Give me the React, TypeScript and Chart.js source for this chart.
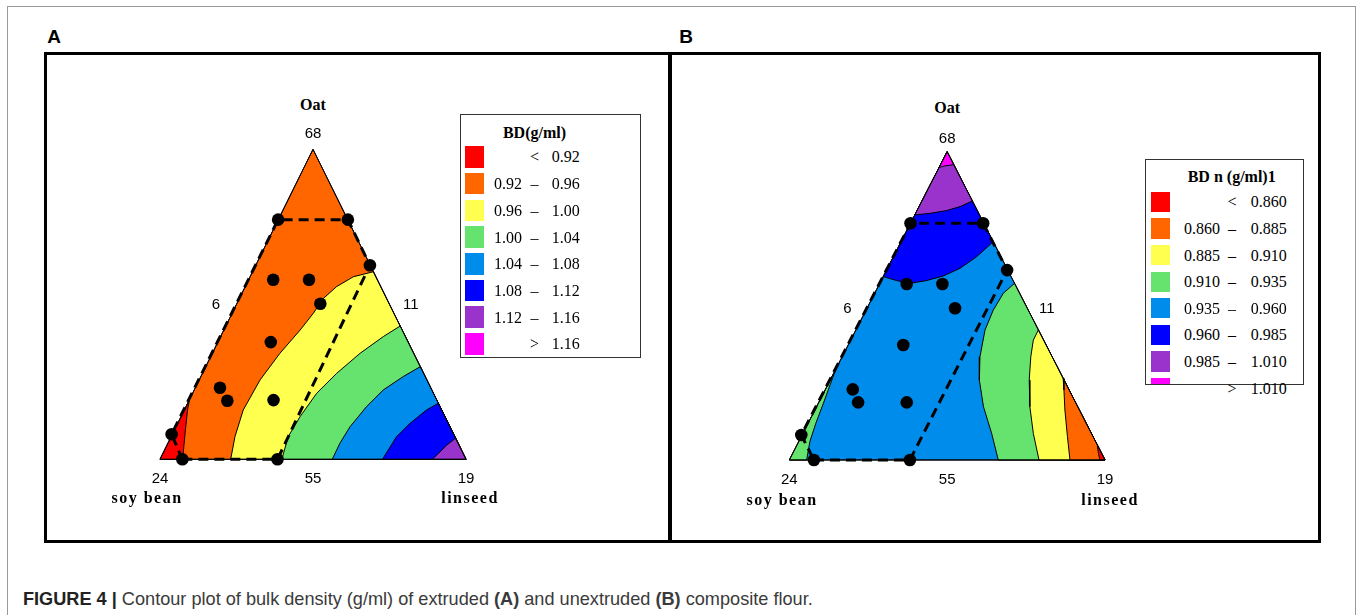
import React, { useEffect, useRef } from 'react';
import { Chart, registerables } from 'chart.js';
Chart.register(...registerables);

// ---------- palette of contour classes ----------
const C_RED = '#FF0000';
const C_ORANGE = '#FF6600';
const C_YELLOW = '#FFFF4F';
const C_GREEN = '#66E36E';
const C_LBLUE = '#008CEB';
const C_BLUE = '#0000FF';
const C_PURPLE = '#9933CC';
const C_MAGENTA = '#FF00FF';
const legendColors = [C_RED, C_ORANGE, C_YELLOW, C_GREEN, C_LBLUE, C_BLUE, C_PURPLE, C_MAGENTA];

// ---------- vertex / edge labels ----------
const componentNames = ['Oat', 'soy bean', 'linseed'];
const vertexTicks = ['68', '6', '11', '24', '55', '19']; // top, left edge, right edge, bottom-left, base, bottom-right

// ---------- legend levels ----------
const legendTitleA = 'BD(g/ml)';
const levelsA = ['0.92', '0.96', '1.00', '1.04', '1.08', '1.12', '1.16'];
const legendTitleB = 'BD n (g/ml)1';
const levelsB = ['0.860', '0.885', '0.910', '0.935', '0.960', '0.985', '1.010'];

// Plot coordinates in the triangle: x along the base (0 = soy bean corner, 1 = linseed corner), y = Oat height (1 = apex)

// ---------- Panel A (extruded) ----------
const designPointsA: [number, number][] = [
  [0.386, 0.773], [0.614, 0.773], [0.686, 0.626], [0.370, 0.579], [0.487, 0.579], [0.524, 0.502],
  [0.362, 0.378], [0.196, 0.231], [0.220, 0.189], [0.371, 0.191], [0.038, 0.081], [0.073, 0.0], [0.384, 0.0],
];
const designRegionA: [number, number][] = [
  [0.073, 0.0], [0.384, 0.0], [0.686, 0.626], [0.614, 0.773], [0.386, 0.773], [0.038, 0.081], [0.073, 0.0],
];
const redEdgeA: [number, number][] = [[0.096, 0.191], [0.090, 0.159], [0.082, 0.084], [0.074, 0.0]];
const orangeYellowA: [number, number][] = [
  [0.697, 0.605], [0.632, 0.589], [0.577, 0.557], [0.534, 0.519], [0.501, 0.471], [0.458, 0.417],
  [0.392, 0.342], [0.327, 0.256], [0.272, 0.159], [0.245, 0.073], [0.231, 0.0],
];
const yellowGreenA: [number, number][] = [
  [0.785, 0.430], [0.730, 0.396], [0.654, 0.342], [0.577, 0.277], [0.512, 0.213], [0.458, 0.138],
  [0.419, 0.073], [0.398, 0.0],
];
const greenLblueA: [number, number][] = [
  [0.851, 0.299], [0.795, 0.267], [0.730, 0.224], [0.675, 0.170], [0.621, 0.105], [0.588, 0.052], [0.563, 0.0],
];
const lblueBlueA: [number, number][] = [
  [0.910, 0.181], [0.871, 0.159], [0.817, 0.116], [0.773, 0.073], [0.746, 0.030], [0.727, 0.0],
];
const bluePurpleA: [number, number][] = [[0.966, 0.068], [0.937, 0.046], [0.910, 0.019], [0.890, 0.0]];

// ---------- Panel B (unextruded) ----------
const designPointsB: [number, number][] = [
  [0.384, 0.768], [0.614, 0.768], [0.690, 0.616], [0.372, 0.571], [0.485, 0.571], [0.525, 0.492],
  [0.361, 0.373], [0.201, 0.229], [0.218, 0.187], [0.372, 0.187], [0.038, 0.081], [0.078, 0.0], [0.382, 0.0],
];
const designRegionB: [number, number][] = [
  [0.078, 0.0], [0.382, 0.0], [0.690, 0.616], [0.614, 0.768], [0.384, 0.768], [0.038, 0.081], [0.078, 0.0],
];
const leftGreenB: [number, number][] = [
  [0.1485, 0.297], [0.131, 0.249], [0.108, 0.184], [0.084, 0.119], [0.065, 0.059], [0.055, 0.0],
];
const lblueGreenB: [number, number][] = [
  [0.7135, 0.573], [0.678, 0.541], [0.646, 0.486], [0.620, 0.422], [0.604, 0.335], [0.602, 0.259],
  [0.615, 0.173], [0.641, 0.086], [0.662, 0.0],
];
const greenYellowB: [number, number][] = [
  [0.789, 0.422], [0.773, 0.389], [0.765, 0.335], [0.760, 0.259], [0.762, 0.173], [0.773, 0.086], [0.791, 0.0],
];
const yellowOrangeB: [number, number][] = [
  [0.8675, 0.265], [0.870, 0.227], [0.873, 0.162], [0.881, 0.076], [0.889, 0.0],
];
const orangeRedB: [number, number][] = [[0.9757, 0.0486], [0.979, 0.022], [0.984, 0.0]];
const lblueBlueB: [number, number][] = [
  [0.2975, 0.595], [0.340, 0.582], [0.382, 0.573], [0.435, 0.582], [0.488, 0.597], [0.541, 0.622],
  [0.593, 0.659], [0.646, 0.708],
];
const bluePurpleB: [number, number][] = [[0.3975, 0.795], [0.446, 0.800], [0.498, 0.809], [0.541, 0.822], [0.580, 0.840]];
const purpleMagentaB: [number, number][] = [[0.4745, 0.949], [0.493, 0.954], [0.521, 0.958]];

// ---------- triangle corners ----------
const T_LEFT: [number, number] = [0, 0];
const T_RIGHT: [number, number] = [1, 0];
const T_APEX: [number, number] = [0.5, 1];

const toXY = (arr: [number, number][]) => arr.map(([x, y]) => ({ x, y }));
const closeWith = (curve: [number, number][], ...corners: [number, number][]) => toXY([...curve, ...corners, curve[0]]);
const triangle = () => toXY([T_LEFT, T_RIGHT, T_APEX, T_LEFT]);

type Layer = { data: { x: number; y: number }[]; color: string };

const layersA: Layer[] = [
  { data: triangle(), color: C_ORANGE },
  { data: closeWith(orangeYellowA, T_RIGHT), color: C_YELLOW },
  { data: closeWith(yellowGreenA, T_RIGHT), color: C_GREEN },
  { data: closeWith(greenLblueA, T_RIGHT), color: C_LBLUE },
  { data: closeWith(lblueBlueA, T_RIGHT), color: C_BLUE },
  { data: closeWith(bluePurpleA, T_RIGHT), color: C_PURPLE },
  { data: toXY([T_LEFT, ...redEdgeA, T_LEFT]), color: C_RED },
];

const layersB: Layer[] = [
  { data: triangle(), color: C_LBLUE },
  { data: closeWith(lblueGreenB, T_RIGHT), color: C_GREEN },
  { data: closeWith(greenYellowB, T_RIGHT), color: C_YELLOW },
  { data: closeWith(yellowOrangeB, T_RIGHT), color: C_ORANGE },
  { data: closeWith(orangeRedB, T_RIGHT), color: C_RED },
  { data: toXY([T_LEFT, ...leftGreenB, T_LEFT]), color: C_GREEN },
  { data: closeWith(lblueBlueB, T_APEX), color: C_BLUE },
  { data: closeWith(bluePurpleB, T_APEX), color: C_PURPLE },
  { data: closeWith(purpleMagentaB, T_APEX), color: C_MAGENTA },
];

// plugin: fills a dataset's polygon (points placed by the chart scales) before its outline is drawn
const polygonFill = {
  id: 'polygonFill',
  beforeDatasetDraw(chart: any, args: any) {
    const ds = chart.data.datasets[args.index];
    if (!ds.polyFill) return;
    const pts = args.meta.data;
    if (!pts.length) return;
    const ctx = chart.ctx;
    ctx.save();
    ctx.beginPath();
    pts.forEach((p: any, i: number) => (i ? ctx.lineTo(p.x, p.y) : ctx.moveTo(p.x, p.y)));
    ctx.closePath();
    ctx.fillStyle = ds.polyFill;
    ctx.fill();
    ctx.restore();
  },
};

type Rect = { x: number; y: number; w: number; h: number };
type Tri = { x0: number; x1: number; yTop: number; yBase: number };

function TernaryChart({ layers, region, points, rect, tri }: { layers: Layer[]; region: [number, number][]; points: [number, number][]; rect: Rect; tri: Tri }) {
  const ref = useRef<HTMLCanvasElement>(null);
  useEffect(() => {
    const list: any[] = [];
    layers.forEach((l) =>
      list.push({
        data: l.data, showLine: true, borderColor: '#000', borderWidth: 1, pointRadius: 0,
        pointHoverRadius: 0, fill: false, tension: 0, polyFill: l.color,
      })
    );
    list.push({ data: triangle(), showLine: true, borderColor: '#000', borderWidth: 1, pointRadius: 0, fill: false });
    list.push({
      data: toXY(region), showLine: true, borderColor: '#000', borderWidth: 3, borderDash: [10, 6],
      pointRadius: 0, fill: false, tension: 0,
    });
    list.push({
      data: toXY(points), showLine: false, pointRadius: 6.3, pointBackgroundColor: '#000',
      pointBorderColor: '#000', pointBorderWidth: 0, backgroundColor: '#000',
    });
    const n = list.length;
    const datasets = list.map((d, i) => ({ ...d, order: n - i }));
    const bw = tri.x1 - tri.x0;
    const bh = tri.yBase - tri.yTop;
    const chart = new Chart(ref.current as HTMLCanvasElement, {
      type: 'scatter',
      data: { datasets },
      options: {
        animation: false,
        responsive: false,
        events: [],
        layout: { padding: 0, autoPadding: false },
        plugins: { legend: { display: false }, tooltip: { enabled: false }, title: { display: false } },
        scales: {
          x: { type: 'linear', display: false, min: (rect.x - tri.x0) / bw, max: (rect.x + rect.w - tri.x0) / bw },
          y: { type: 'linear', display: false, min: (tri.yBase - (rect.y + rect.h)) / bh, max: (tri.yBase - rect.y) / bh },
        },
      } as any,
      plugins: [polygonFill as any],
    });
    return () => chart.destroy();
  }, []);
  return (
    <canvas
      ref={ref}
      width={rect.w}
      height={rect.h}
      style={{ position: 'absolute', left: rect.x, top: rect.y, width: rect.w, height: rect.h }}
    />
  );
}

const SERIF = "'Liberation Serif', 'Times New Roman', serif";
const SANS = "'Liberation Sans', Arial, sans-serif";

function Txt({ x, y, children, style }: { x: number; y: number; children: any; style?: any }) {
  return (
    <div
      style={{
        position: 'absolute', left: x, top: y, transform: 'translate(-50%,-50%)',
        whiteSpace: 'nowrap', lineHeight: 1, ...style,
      }}
    >
      {children}
    </div>
  );
}

type LegendGeo = {
  box: Rect; titleX: number; titleY: number; swX: number; swTop: number; swH: number; pitch: number;
  leftEnd: number; dashX: number; rightStart: number;
};

function Legend({ title, levels, g }: { title: string; levels: string[]; g: LegendGeo }) {
  const rows: { a: string; op: string; b: string }[] = [];
  rows.push({ a: '', op: '<', b: levels[0] });
  for (let i = 0; i < levels.length - 1; i++) rows.push({ a: levels[i], op: '–', b: levels[i + 1] });
  rows.push({ a: '', op: '>', b: levels[levels.length - 1] });
  const font = { fontFamily: SERIF, fontSize: 16, color: '#000' };
  return (
    <>
      <div
        style={{
          position: 'absolute', left: g.box.x, top: g.box.y, width: g.box.w, height: g.box.h,
          boxSizing: 'border-box', border: '1.5px solid #333', overflow: 'hidden', background: '#fff',
        }}
      >
        {rows.map((r, i) => (
          <div
            key={i}
            style={{
              position: 'absolute', left: g.swX - g.box.x - 1.5, top: g.swTop + i * g.pitch - g.box.y - 1.5,
              width: 19, height: g.swH, background: legendColors[i],
            }}
          />
        ))}
      </div>
      <Txt x={g.titleX} y={g.titleY} style={{ ...font, fontWeight: 'bold' }}>{title}</Txt>
      {rows.map((r, i) => {
        const cy = g.swTop + i * g.pitch + g.swH / 2;
        return (
          <React.Fragment key={i}>
            {r.a && (
              <div style={{ position: 'absolute', left: g.leftEnd - 80, width: 80, top: cy, transform: 'translateY(-50%)', textAlign: 'right', lineHeight: 1, ...font }}>
                {r.a}
              </div>
            )}
            <Txt x={g.dashX} y={cy} style={font}>{r.op}</Txt>
            <div style={{ position: 'absolute', left: g.rightStart, top: cy, transform: 'translateY(-50%)', lineHeight: 1, whiteSpace: 'nowrap', ...font }}>
              {r.b}
            </div>
          </React.Fragment>
        );
      })}
    </>
  );
}

function TriLabels({ tri, oatY, topY, edgeY, leftX, rightX, baseY, nameY, soyX, linX }: any) {
  const mid = (tri.x0 + tri.x1) / 2;
  const num = { fontFamily: SANS, fontSize: 15, color: '#000' };
  const name = { fontFamily: SERIF, fontSize: 16, fontWeight: 'bold', color: '#000', letterSpacing: 1.5 };
  return (
    <>
      <Txt x={mid} y={oatY} style={{ ...name, letterSpacing: 0 }}>{componentNames[0]}</Txt>
      <Txt x={mid} y={topY} style={num}>{vertexTicks[0]}</Txt>
      <Txt x={leftX} y={edgeY} style={num}>{vertexTicks[1]}</Txt>
      <Txt x={rightX} y={edgeY} style={num}>{vertexTicks[2]}</Txt>
      <Txt x={tri.x0} y={baseY} style={num}>{vertexTicks[3]}</Txt>
      <Txt x={mid} y={baseY} style={num}>{vertexTicks[4]}</Txt>
      <Txt x={tri.x1} y={baseY} style={num}>{vertexTicks[5]}</Txt>
      <Txt x={soyX} y={nameY} style={name}>{componentNames[1]}</Txt>
      <Txt x={linX} y={nameY} style={name}>{componentNames[2]}</Txt>
    </>
  );
}

export default function App() {
  const triA: Tri = { x0: 160, x1: 466, yTop: 149.3, yBase: 459.3 };
  const triB: Tri = { x0: 789.3, x1: 1105, yTop: 151.7, yBase: 460 };
  return (
    <div style={{ position: 'absolute', left: 0, top: 0, width: 1358, height: 615, overflow: 'hidden', background: '#fff' }}>
      {/* outer figure frame */}
      <div style={{ position: 'absolute', left: 7, top: 6, width: 1349, height: 700, boxSizing: 'border-box', border: '1.5px solid #999' }} />
      {/* panel boxes */}
      <div style={{ position: 'absolute', left: 43.5, top: 51.5, width: 1277, height: 491, boxSizing: 'border-box', border: '3px solid #000' }} />
      <div style={{ position: 'absolute', left: 667.5, top: 51.5, width: 4.5, height: 491, background: '#000' }} />
      <Txt x={54} y={35.5} style={{ fontFamily: SANS, fontWeight: 'bold', fontSize: 19 }}>A</Txt>
      <Txt x={686} y={35.5} style={{ fontFamily: SANS, fontWeight: 'bold', fontSize: 19 }}>B</Txt>

      <TernaryChart layers={layersA} region={designRegionA} points={designPointsA} rect={{ x: 140, y: 130, w: 346, h: 350 }} tri={triA} />
      <TernaryChart layers={layersB} region={designRegionB} points={designPointsB} rect={{ x: 770, y: 132, w: 355, h: 348 }} tri={triB} />

      <TriLabels tri={triA} oatY={105} topY={131.7} edgeY={302.7} leftX={216} rightX={410.7} baseY={476.7} nameY={498} soyX={147} linX={470} />
      <TriLabels tri={triB} oatY={108.3} topY={136.7} edgeY={307.3} leftX={847.3} rightX={1046.7} baseY={477.7} nameY={500} soyX={782} linX={1110} />

      <Legend
        title={legendTitleA}
        levels={levelsA}
        g={{ box: { x: 459.5, y: 113.5, w: 181, h: 244 }, titleX: 534.5, titleY: 133.3, swX: 465, swTop: 146.7, swH: 21.5, pitch: 26.7, leftEnd: 522, dashX: 534.5, rightStart: 551.7 }}
      />
      <Legend
        title={legendTitleB}
        levels={levelsB}
        g={{ box: { x: 1145, y: 158.5, w: 158.5, h: 226.5 }, titleX: 1231.7, titleY: 176.7, swX: 1151.7, swTop: 192.3, swH: 20.3, pitch: 26.6, leftEnd: 1220, dashX: 1232, rightStart: 1250.7 }}
      />

      <div
        style={{
          position: 'absolute', left: 22.5, top: 597.5, transform: 'translateY(-50%) scaleX(0.955)', transformOrigin: '0 50%',
          whiteSpace: 'nowrap', lineHeight: 1,
          fontFamily: "'Liberation Sans', Arial, sans-serif", fontSize: 19, color: '#3a3a3a',
        }}
      >
        <b style={{ color: '#222' }}>FIGURE 4 |</b> Contour plot of bulk density (g/ml) of extruded <b>(A)</b> and unextruded <b>(B)</b> composite flour.
      </div>
    </div>
  );
}
